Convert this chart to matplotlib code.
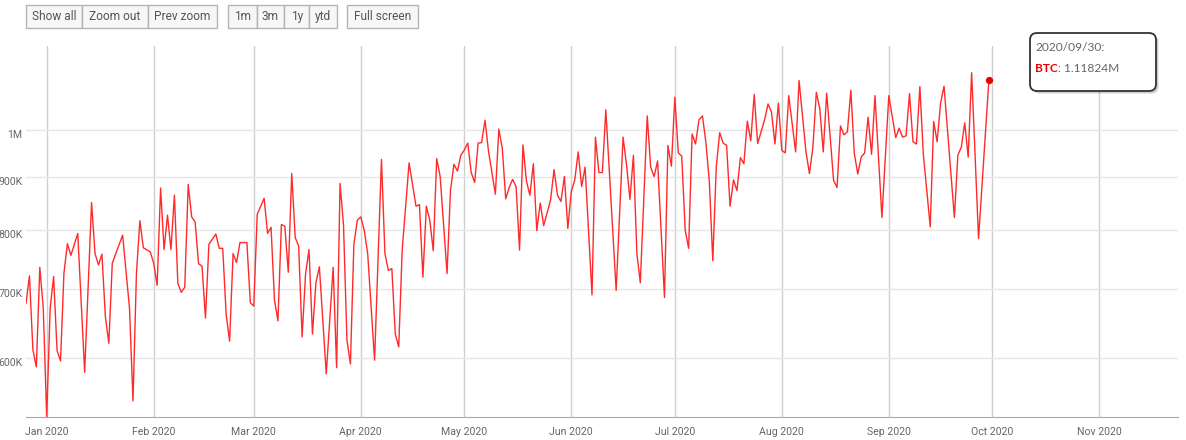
import numpy as np
import pandas as pd
import matplotlib
matplotlib.use('Agg')
import matplotlib.pyplot as plt
import matplotlib.transforms as mtransforms
from matplotlib.patches import Rectangle, FancyBboxPatch
from matplotlib.ticker import FixedLocator, NullLocator

plt.rcParams['font.family'] = ['Roboto', 'DejaVu Sans']

# daily BTC values (thousands), only the turning points
dates = [
	'2019-12-26', '2019-12-27', '2019-12-28', '2019-12-29', '2019-12-30', '2019-12-31',
	'2020-01-01', '2020-01-02', '2020-01-03', '2020-01-04', '2020-01-05', '2020-01-06', '2020-01-07',
	'2020-01-08', '2020-01-10', '2020-01-12', '2020-01-14', '2020-01-15', '2020-01-16', '2020-01-17',
	'2020-01-18', '2020-01-19', '2020-01-20', '2020-01-23', '2020-01-25', '2020-01-26', '2020-01-27',
	'2020-01-28', '2020-01-29', '2020-01-31',
	'2020-02-01', '2020-02-02', '2020-02-03', '2020-02-04', '2020-02-05', '2020-02-06', '2020-02-07',
	'2020-02-08', '2020-02-09', '2020-02-10', '2020-02-11', '2020-02-12', '2020-02-13', '2020-02-14',
	'2020-02-15', '2020-02-16', '2020-02-17', '2020-02-19', '2020-02-20', '2020-02-21', '2020-02-22',
	'2020-02-23', '2020-02-24', '2020-02-25', '2020-02-26', '2020-02-28', '2020-02-29',
	'2020-03-01', '2020-03-02', '2020-03-04', '2020-03-05', '2020-03-06', '2020-03-07', '2020-03-08',
	'2020-03-09', '2020-03-10', '2020-03-11', '2020-03-12', '2020-03-13', '2020-03-14', '2020-03-15',
	'2020-03-16', '2020-03-17', '2020-03-18', '2020-03-19', '2020-03-20', '2020-03-22', '2020-03-24',
	'2020-03-25', '2020-03-26', '2020-03-27', '2020-03-28', '2020-03-29', '2020-03-30', '2020-03-31',
	'2020-04-01', '2020-04-02', '2020-04-03', '2020-04-05', '2020-04-07', '2020-04-08', '2020-04-09',
	'2020-04-10', '2020-04-11', '2020-04-12', '2020-04-13', '2020-04-15', '2020-04-17', '2020-04-18',
	'2020-04-19', '2020-04-20', '2020-04-21', '2020-04-22', '2020-04-23', '2020-04-24', '2020-04-26',
	'2020-04-27', '2020-04-28', '2020-04-29', '2020-04-30',
	'2020-05-01', '2020-05-02', '2020-05-03', '2020-05-04', '2020-05-05', '2020-05-06', '2020-05-07',
	'2020-05-08', '2020-05-10', '2020-05-11', '2020-05-12', '2020-05-13', '2020-05-14', '2020-05-15',
	'2020-05-16', '2020-05-17', '2020-05-18', '2020-05-19', '2020-05-20', '2020-05-21', '2020-05-22',
	'2020-05-23', '2020-05-24', '2020-05-26', '2020-05-27', '2020-05-28', '2020-05-29', '2020-05-30',
	'2020-05-31',
	'2020-06-01', '2020-06-02', '2020-06-03', '2020-06-04', '2020-06-05', '2020-06-07', '2020-06-08',
	'2020-06-09', '2020-06-10', '2020-06-11', '2020-06-14', '2020-06-16', '2020-06-17', '2020-06-18',
	'2020-06-19', '2020-06-20', '2020-06-21', '2020-06-23', '2020-06-24', '2020-06-25', '2020-06-26',
	'2020-06-28', '2020-06-29', '2020-06-30',
	'2020-07-01', '2020-07-02', '2020-07-03', '2020-07-04', '2020-07-05', '2020-07-06', '2020-07-07',
	'2020-07-08', '2020-07-09', '2020-07-10', '2020-07-11', '2020-07-12', '2020-07-13', '2020-07-14',
	'2020-07-15', '2020-07-16', '2020-07-17', '2020-07-18', '2020-07-19', '2020-07-20', '2020-07-21',
	'2020-07-22', '2020-07-23', '2020-07-24', '2020-07-25', '2020-07-27', '2020-07-28', '2020-07-29',
	'2020-07-30', '2020-07-31',
	'2020-08-01', '2020-08-02', '2020-08-03', '2020-08-05', '2020-08-06', '2020-08-08', '2020-08-09',
	'2020-08-10', '2020-08-11', '2020-08-12', '2020-08-13', '2020-08-14', '2020-08-16', '2020-08-17',
	'2020-08-18', '2020-08-19', '2020-08-20', '2020-08-21', '2020-08-22', '2020-08-23', '2020-08-24',
	'2020-08-25', '2020-08-26', '2020-08-27', '2020-08-28', '2020-08-30',
	'2020-09-01', '2020-09-03', '2020-09-04', '2020-09-05', '2020-09-06', '2020-09-07', '2020-09-08',
	'2020-09-09', '2020-09-10', '2020-09-11', '2020-09-13', '2020-09-14', '2020-09-15', '2020-09-16',
	'2020-09-17', '2020-09-20', '2020-09-21', '2020-09-22', '2020-09-23', '2020-09-24', '2020-09-25',
	'2020-09-27', '2020-09-30',
]
btc_k = [
	678, 721, 611, 588, 735, 671,
	525, 671, 720, 610, 596, 726, 775, 755, 793, 581, 850, 758, 739, 757, 658, 620, 742, 790,
	670, 545, 725, 816, 768, 761,
	742, 706, 878, 765, 826, 765, 864, 709, 695, 703, 885, 823, 814, 741, 737, 656, 774,
	792, 767, 767, 661, 623, 758, 743, 777, 777, 679,
	674, 828, 858, 793, 804, 683, 652, 809, 806, 727, 907, 786, 771, 629, 724, 765, 633, 710, 736,
	579, 735, 587, 887, 808, 624, 592, 774, 817,
	823, 799, 758, 597, 936, 758, 730, 733, 633, 615, 764, 929, 843, 846, 719, 843, 817, 763, 938,
	901, 725, 874, 926, 912, 945,
	956, 971, 909, 889, 971, 972, 1022, 954, 866, 1002, 960, 857, 879, 895, 881, 764, 967, 892,
	864, 927, 798, 849, 807, 855, 915, 864, 852, 901, 802,
	871, 894, 952, 881, 920, 691, 984, 909, 909, 1046, 698, 984, 925, 856, 945, 758, 710, 1032,
	920, 901, 933, 687, 966, 922,
	1076, 950, 943, 799, 767, 991, 969, 1023, 1032, 972, 890, 746, 920, 994, 971, 966, 843, 894,
	873, 940, 927, 1020, 976, 1083, 970, 1023, 1060, 1041, 969, 1062,
	955, 950, 1080, 952, 1117, 952, 907, 962, 1088, 1049, 952, 1086, 893, 879, 1009, 989, 996,
	1093, 949, 906, 941, 950, 1029, 947, 1080, 822,
	1080, 983, 1004, 984, 987, 1085, 974, 969, 1102, 947, 805, 1019, 974, 1062, 1103, 822, 945,
	962, 1016, 941, 1137, 784, 1118.24,
]

month_ticks = ['2020-01-01', '2020-02-01', '2020-03-01', '2020-04-01', '2020-05-01', '2020-06-01',
	'2020-07-01', '2020-08-01', '2020-09-01', '2020-10-01', '2020-11-01']
month_labels = ['Jan 2020', 'Feb 2020', 'Mar 2020', 'Apr 2020', 'May 2020', 'Jun 2020',
	'Jul 2020', 'Aug 2020', 'Sep 2020', 'Oct 2020', 'Nov 2020']
y_ticks = [600000, 700000, 800000, 900000, 1000000]
y_labels = ['600K', '700K', '800K', '900K', '1M']

nav_buttons = ['Show all', 'Zoom out', 'Prev zoom']
range_buttons = ['1m', '3m', '1y', 'ytd']
screen_buttons = ['Full screen']
tip_date = '2020/09/30:'
tip_series = 'BTC'
tip_value = ': 1.11824M'

x = pd.to_datetime(dates)
y = np.array(btc_k) * 1000

W, H = 1186, 440
fig = plt.figure(figsize=(W / 100, H / 100), dpi=100)
left, right, top, bottom = 26, 1178, 46, 417
ax = fig.add_axes([left / W, 1 - bottom / H, (right - left) / W, (bottom - top) / H])

ax.set_yscale('log')
ax.plot(x, y, color='#ff2a2a', lw=1.0, zorder=3)
ax.plot(x[-1:], y[-1:], 'o', color='#ee0000', ms=4.2, zorder=4)

ax.set_xlim(pd.Timestamp('2019-12-26'), pd.Timestamp('2020-11-23 19:00'))
ax.set_ylim(525.6e3, 1207e3)
ax.yaxis.set_major_locator(FixedLocator(y_ticks))
ax.yaxis.set_minor_locator(NullLocator())
ax.set_yticklabels(y_labels)
ax.set_xticks(pd.to_datetime(month_ticks))
ax.set_xticklabels(month_labels)

ax.grid(axis='x', color='#cfcfcf', lw=1)
ax.grid(axis='y', color='#e6e6e6', lw=1)
ax.set_axisbelow(True)
for s in ['left', 'top', 'right']:
	ax.spines[s].set_visible(False)
ax.spines['bottom'].set_color('#a8a8a8')
ax.tick_params(length=0, labelsize=7.6, labelcolor='#666666')
ax.tick_params(axis='x', pad=7)
ax.tick_params(axis='y', pad=2.5)
shift = mtransforms.ScaledTranslation(0, -4 / 100, fig.dpi_scale_trans)
for lab in ax.get_yticklabels():
	lab.set_transform(lab.get_transform() + shift)

# overlay in pixel coordinates for buttons and tooltip
ov = fig.add_axes([0, 0, 1, 1], zorder=5)
ov.set_xlim(0, W)
ov.set_ylim(H, 0)
ov.axis('off')

def button_group(x0, widths, labels):
	for w, lab in zip(widths, labels):
		ov.add_patch(Rectangle((x0, 5), w, 23, fc='#f7f7f7', ec='#b4b4b4', lw=1))
		ov.text(x0 + w / 2, 16.5, lab, ha='center', va='center', fontsize=8.6, color='#555555')
		x0 += w

button_group(25.7, [56.6, 65.4, 69.6], nav_buttons)
button_group(227.7, [29, 27.6, 25, 27.4], range_buttons)
button_group(346.7, [71.6], screen_buttons)

# tooltip
ov.add_patch(FancyBboxPatch((1032.5, 35.5), 126, 58, boxstyle='round,pad=0,rounding_size=7',
	fc='#000000', ec='none', alpha=0.18))
ov.add_patch(FancyBboxPatch((1030, 33), 126, 58, boxstyle='round,pad=0,rounding_size=7',
	fc='white', ec='#333333', lw=1.3))
ov.text(1035, 47.5, tip_date, fontsize=8.6, color='#666666', va='center', family=['Lato', 'DejaVu Sans'])
t = ov.text(1035, 68.5, tip_series, fontsize=8.6, color='#ee0000', weight='bold', va='center',
	family=['Lato', 'DejaVu Sans'])
ov.annotate(tip_value, xy=(1, 0), xycoords=t, va='bottom', ha='left', fontsize=8.6,
	color='#666666', family=['Lato', 'DejaVu Sans'])

fig.savefig('out.png', dpi=100)
